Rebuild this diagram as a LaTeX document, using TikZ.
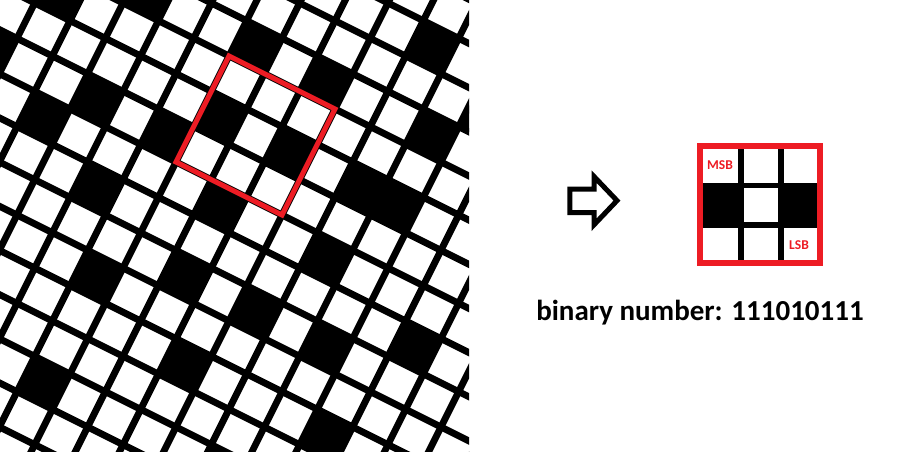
\documentclass[tikz,border=0pt]{standalone}
\usepackage{fontspec}
\setmainfont{Carlito}
\definecolor{pred}{RGB}{237,28,36}
\begin{document}
\begin{tikzpicture}[x=1pt,y=-1pt,
  gridline/.style={line width=6.8pt,black},
  redframe/.style={draw=pred,line width=5pt,line join=miter},
  bigframe/.style={draw=pred,line width=6.4pt,line join=miter},
  bitlabel/.style={text=pred,font=\fontsize{13.5}{14}\selectfont\bfseries,inner sep=0pt},
  caption/.style={font=\fontsize{29}{31}\selectfont\bfseries,inner sep=0pt,anchor=base},
  arrowshape/.style={draw=black,line width=5pt,line join=miter,fill=white}]
\useasboundingbox (0,0) rectangle (908,451);
% ---------- left rotated pattern ----------
\begin{scope}
\clip (0,0) rectangle (469,451);
\foreach \i/\j in {-5/0,-3/-1,-6/2,-4/3,-3/2,-1/2,0/1,2/1,0/-1,2/-1,4/-3,5/-1,6/-2,4/1,5/1,1/3,-2/4,-1/6,1/5,-1/9,2/7,4/3,3/5,5/5,7/4,6/7,4/9}{
  \fill ({229+35.33*\i-17.665*\j},{56+17.665*\i+35.33*\j}) -- ++(35.33,17.665) -- ++(-17.665,35.33) -- ++(-35.33,-17.665) -- cycle;
}
\foreach \k in {-8,...,14}{
  \draw[gridline] ({229-17.665*\k-706.6},{56+35.33*\k-353.3}) -- ++(1413.2,706.6);
}
\foreach \k in {-10,...,14}{
  \draw[gridline] ({229+35.33*\k+353.3},{56+17.665*\k-706.6}) -- ++(-706.6,1413.2);
}
\draw[redframe] (229,56) -- (335,109) -- (282,215) -- (176,162) -- cycle;
\end{scope}
% ---------- arrow ----------
\draw[arrowshape] (569.8,189.2) -- (594,189.2) -- (594,176.5) -- (617,200.6) -- (594,224.8) -- (594,212.5) -- (569.8,212.5) -- cycle;
% ---------- 3x3 code ----------
\fill[black] (703,182.7) rectangle (817.5,227.7);
\fill[white] (744,188.3) rectangle (778.3,222.3);
\fill[black] (738.3,149) rectangle (744,261);
\fill[black] (778.3,149) rectangle (783.5,261);
\draw[bigframe] (700,146.2) rectangle (820,263.2);
\node[bitlabel] (msb) at (720,165) {MSB};
\node[bitlabel] (lsb) at (799,245) {LSB};
\node[caption] (bin) at (700,320) {binary number: 111010111};
\end{tikzpicture}
\end{document}
